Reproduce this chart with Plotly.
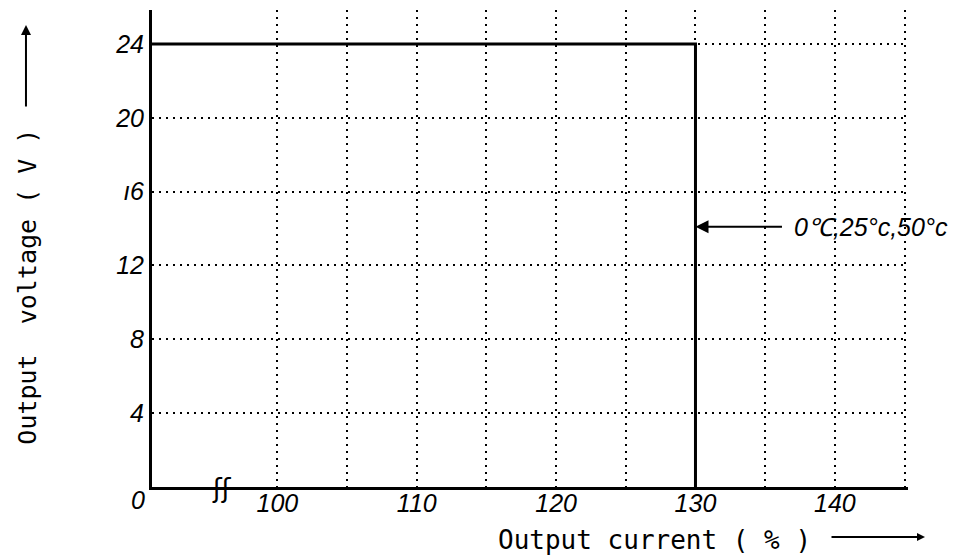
import plotly.graph_objects as go

# Data
current_pct = [91.0, 130.0, 130.0]
voltage_v = [24.0, 24.0, 0.0]

x_tickvals = [100, 105, 110, 115, 120, 125, 130, 135, 140, 145]
x_ticktext = ["100", "", "110", "", "120", "", "130", "", "140", ""]
y_tickvals = [4, 8, 12, 16, 20, 24]
y_ticktext = ["4", "8", "12", "ı6", "20", "24"]

curve_label = "0℃,25°c,50°c"
curve_label_y = 14.1
break_x = 96.0

x_title = "Output current ( % )"
y_title = "Output  voltage ( V )"

hand_font = dict(family="Liberation Sans", size=25, color="black", style="italic")
mono_font = dict(family="DejaVu Sans Mono", size=26, color="black")

fig = go.Figure()
fig.add_trace(go.Scatter(
    x=current_pct, y=voltage_v, mode="lines",
    line=dict(color="black", width=3), hoverinfo="skip", showlegend=False,
))

# page body has an 8px margin, so the figure is sized/offset to compensate
fig.update_layout(
    width=961, height=548,
    margin=dict(l=144, r=61, t=2, b=69),
    paper_bgcolor="white", plot_bgcolor="white",
    showlegend=False,
    xaxis=dict(
        range=[91.0, 145.25], tickvals=x_tickvals, ticktext=x_ticktext,
        showgrid=True, gridcolor="black", gridwidth=2, griddash="2px,5px",
        showline=True, linecolor="black", linewidth=3, zeroline=False,
        ticks="", tickfont=hand_font, ticklabelstandoff=-8,
    ),
    yaxis=dict(
        range=[0, 25.84], tickvals=y_tickvals, ticktext=y_ticktext,
        showgrid=True, gridcolor="black", gridwidth=2, griddash="2px,5px",
        showline=True, linecolor="black", linewidth=3, zeroline=False,
        ticks="", tickfont=hand_font,
    ),
)

annotations = [
    # origin "0"
    dict(xref="paper", yref="paper", x=-0.0185, y=-0.027, text="0", showarrow=False,
         xanchor="center", yanchor="middle", font=hand_font),
    # axis break mark
    dict(xref="x", yref="y", x=break_x, y=0, text="ʃʃ", showarrow=False,
         xanchor="center", yanchor="middle", yshift=-1,
         font=dict(family="DejaVu Sans", size=26, color="black")),
    # curve label with arrow
    dict(xref="x", yref="y", x=130.0, y=curve_label_y, ax=88, ay=0, text="",
         showarrow=True, arrowhead=2, arrowsize=1.3, arrowwidth=2, arrowcolor="black"),
    dict(xref="paper", yref="y", x=0.8466, y=curve_label_y, text=curve_label,
         xanchor="left", yanchor="middle", showarrow=False, font=hand_font),
    # x title
    dict(xref="paper", yref="paper", x=0.6647, y=-0.111, text=x_title, showarrow=False,
         xanchor="center", yanchor="middle", font=mono_font),
    dict(xref="paper", yref="paper", x=1.0225, y=-0.1048, ax=-95, ay=0, text="",
         showarrow=True, arrowhead=2, arrowsize=0.8, arrowwidth=2, arrowcolor="black"),
    # y title
    dict(xref="paper", yref="paper", x=-0.164, y=0.42, text=y_title, textangle=-90,
         xanchor="center", yanchor="middle", showarrow=False,
         font=dict(family="DejaVu Sans Mono", size=25, color="black")),
    dict(xref="paper", yref="paper", x=-0.1667, y=0.9686, ax=0, ay=83, text="",
         showarrow=True, arrowhead=2, arrowsize=1.0, arrowwidth=2, arrowcolor="black"),
]
fig.update_layout(annotations=annotations)

fig.write_html("out.html")
